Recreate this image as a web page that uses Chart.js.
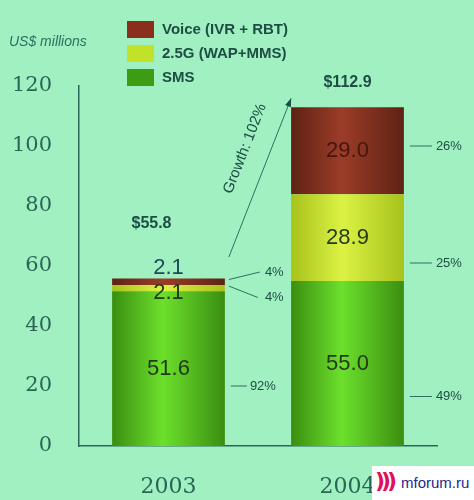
<!DOCTYPE html>
<html>
<head>
<meta charset="utf-8">
<script src="https://cdn.jsdelivr.net/npm/chart.js@4.4.1/dist/chart.umd.min.js"></script>
<style>
  html, body { margin: 0; padding: 0; background: #a0f0c2; }
  #wrap { position: relative; width: 474px; height: 500px; }
  #mf { position: absolute; left: 372px; top: 466px; width: 102px; height: 34px; background: #fff;
        font: 15px "Liberation Sans", Arial, sans-serif; color: #1a2a8a; }
  #mf .r { position: absolute; left: 3px; top: 2px; font: bold 22px "DejaVu Sans", sans-serif; color: #e0105c; letter-spacing: -4px; }
  #mf .t { position: absolute; left: 29px; top: 8px; }
</style>
</head>
<body>
<div id="wrap">
  <canvas id="c" width="474" height="500"></canvas>
  <div id="mf"><span class="r">)))</span><span class="t">mforum.ru</span></div>
</div>
<script>
// данные
const years = ['2003', '2004'];
const sms = [51.6, 55.0];
const g25 = [2.1, 28.9];
const voice = [2.1, 29.0];
const totals = [55.8, 112.9];
const yTicks = [0, 20, 40, 60, 80, 100, 120];
const shares = [['92%', '4%', '4%'], ['49%', '25%', '26%']];

// горизонтальный градиент для столбцов
function barFill(dark, light) {
    return function(ctx) {
        const chart = ctx.chart;
        if (!chart.chartArea) return light;
        const xs = chart.scales.x;
        const cx = xs.getPixelForValue(ctx.dataIndex);
        const hw = (xs.width / years.length) * 0.63 / 2;
        const g = chart.ctx.createLinearGradient(cx - hw, 0, cx + hw, 0);
        g.addColorStop(0, dark);
        g.addColorStop(0.45, light);
        g.addColorStop(1, dark);
        return g;
    };
}

// подписи, легенда, стрелка
const decor = {
    id: 'decor',
    afterDatasetsDraw(chart) {
        const c = chart.ctx;
        const xs = chart.scales.x, ys = chart.scales.y;
        const hw = (xs.width / years.length) * 0.63 / 2;
        c.save();

        // легенда
        const leg = [['Voice (IVR + RBT)', '#8a2e1e'], ['2.5G (WAP+MMS)', '#c2e22a'], ['SMS', '#3c9c14']];
        leg.forEach((l, i) => {
            const y = 21 + i * 24;
            c.fillStyle = l[1];
            c.fillRect(127, y, 27, 17);
            c.fillStyle = '#1d4d43';
            c.font = 'bold 15px "Liberation Sans", Arial, sans-serif';
            c.textAlign = 'left';
            c.textBaseline = 'middle';
            c.fillText(l[0], 162, y + 9);
        });

        c.fillStyle = '#2f6f60';
        c.font = 'italic 14px "Liberation Sans", Arial, sans-serif';
        c.fillText('US$ millions', 9, 42);

        // значения внутри столбцов
        c.textAlign = 'center';
        c.textBaseline = 'middle';
        c.font = '22px "Liberation Sans", Arial, sans-serif';
        years.forEach((y, i) => {
            const cx = xs.getPixelForValue(i);
            const segs = [sms[i], g25[i], voice[i]];
            let base = 0;
            segs.forEach((v, k) => {
                let py = ys.getPixelForValue(base + v / 2);
                if (i === 0 && k === 1) py += 5;
                if (i === 0 && k === 2) py -= 14;
                c.fillStyle = (i === 0 && k === 2) ? '#1f4a5a' : (k === 2 ? '#45160e' : '#243a1c');
                c.fillText(v.toFixed(1), cx, py);
                base += v;
            });
        });

        // итоги
        c.font = 'bold 16px "Liberation Sans", Arial, sans-serif';
        c.fillStyle = '#1d4d43';
        c.fillText('$' + totals[0].toFixed(1), xs.getPixelForValue(0) - 17, ys.getPixelForValue(totals[0]) - 55);
        c.fillText('$' + totals[1].toFixed(1), xs.getPixelForValue(1), ys.getPixelForValue(totals[1]) - 25);

        // доли
        c.strokeStyle = '#2f6f60';
        c.lineWidth = 1;
        c.font = '13px "Liberation Sans", Arial, sans-serif';
        c.fillStyle = '#1d4d43';
        c.textAlign = 'left';
        const r0 = xs.getPixelForValue(0) + hw;
        const line = (x1, y1, x2, y2) => { c.beginPath(); c.moveTo(x1, y1); c.lineTo(x2, y2); c.stroke(); };
        // 2003
        let yv = ys.getPixelForValue(20);
        line(r0 + 6, yv, r0 + 22, yv);
        c.fillText(shares[0][0], r0 + 25, yv);
        let ya = ys.getPixelForValue(totals[0] - 0.3), yb = ys.getPixelForValue(58);
        line(r0 + 4, ya, r0 + 35, yb);
        c.fillText(shares[0][2], r0 + 40, yb);
        ya = ys.getPixelForValue(totals[0] - 2.5); yb = ys.getPixelForValue(49.5);
        line(r0 + 4, ya, r0 + 33, yb);
        c.fillText(shares[0][1], r0 + 40, yb);
        // 2004
        const r1 = xs.getPixelForValue(1) + hw;
        [[16.5, 0], [61, 1], [100, 2]].forEach(p => {
            const py = ys.getPixelForValue(p[0]);
            line(r1 + 6, py, r1 + 28, py);
            c.fillText(shares[1][p[1]], r1 + 32, py);
        });

        // стрелка роста
        const x1 = r0 + 4, y1 = ys.getPixelForValue(63);
        const x2 = xs.getPixelForValue(1) - hw, y2 = ys.getPixelForValue(totals[1] + 3);
        line(x1, y1, x2, y2);
        const a = Math.atan2(y2 - y1, x2 - x1);
        c.fillStyle = '#1d4d43';
        c.beginPath();
        c.moveTo(x2, y2);
        c.lineTo(x2 - 9 * Math.cos(a - 0.35), y2 - 9 * Math.sin(a - 0.35));
        c.lineTo(x2 - 9 * Math.cos(a + 0.35), y2 - 9 * Math.sin(a + 0.35));
        c.closePath();
        c.fill();
        c.save();
        c.translate((x1 + x2) / 2 - 15, (y1 + y2) / 2 - 29);
        c.rotate(a);
        c.textAlign = 'center';
        c.font = '15px "Liberation Sans", Arial, sans-serif';
        c.fillText('Growth: 102%', 0, 0);
        c.restore();

        c.restore();
    }
};

new Chart(document.getElementById('c'), {
    type: 'bar',
    data: {
        labels: years,
        datasets: [
            { label: 'SMS', data: sms, backgroundColor: barFill('#3a8e10', '#6ce02c') },
            { label: '2.5G (WAP+MMS)', data: g25, backgroundColor: barFill('#a6c21c', '#dcf244') },
            { label: 'Voice (IVR + RBT)', data: voice, backgroundColor: barFill('#5e2214', '#9c3c28') }
        ]
    },
    options: {
        responsive: false,
        animation: false,
        layout: { padding: { top: 86, right: 37, left: 0, bottom: 0 } },
        plugins: { legend: { display: false }, tooltip: { enabled: false } },
        datasets: { bar: { categoryPercentage: 1, barPercentage: 0.63 } },
        scales: {
            x: {
                stacked: true,
                grid: { display: false, drawTicks: false },
                border: { color: '#2a6656', width: 1.5 },
                ticks: { color: '#2a6656', padding: 28, font: { family: '"DejaVu Serif", serif', size: 22 } },
                afterFit: s => { s.height = 54; }
            },
            y: {
                stacked: true,
                min: 0,
                max: 120,
                afterBuildTicks: s => { s.ticks = yTicks.map(v => ({ value: v })); },
                grid: { display: false, drawTicks: false },
                border: { color: '#2a6656', width: 1.5 },
                ticks: { color: '#2a6656', padding: 27, font: { family: '"DejaVu Serif", serif', size: 21 } },
                afterFit: s => { s.width = 79; }
            }
        }
    },
    plugins: [decor]
});
</script>
</body>
</html>
